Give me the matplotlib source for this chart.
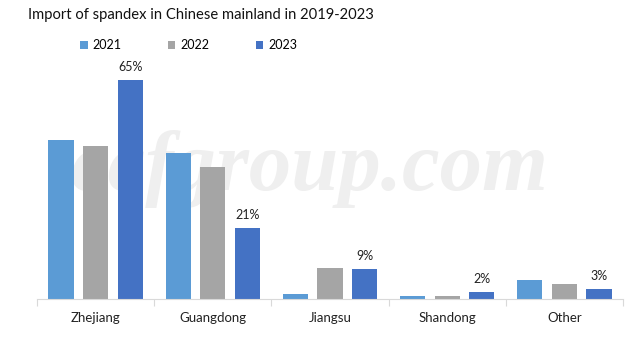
import matplotlib.pyplot as plt
import numpy as np

regions = ["Zhejiang", "Guangdong", "Jiangsu", "Shandong", "Other"]
years = ["2021", "2022", "2023"]
share_2021 = [47.2, 43.3, 1.5, 0.9, 5.6]
share_2022 = [45.4, 39.2, 9.2, 0.8, 4.5]
share_2023 = [65, 21, 9, 2, 3]
labels_2023 = ["65%", "21%", "9%", "2%", "3%"]

colors = ["#5B9BD5", "#A5A5A5", "#4472C4"]

fig = plt.figure(figsize=(6.43, 3.41), dpi=100)
ax = fig.add_axes([0.0575, 0.123, 0.9115, 0.692])

x = np.arange(len(regions))
w = 0.214
off = 0.295
series = [share_2021, share_2022, share_2023]
bars = []
for i, vals in enumerate(series):
    b = ax.bar(x + (i - 1) * off, vals, w, color=colors[i], label=years[i], zorder=3)
    bars.append(b)

for rect, lab in zip(bars[2], labels_2023):
    ax.annotate(lab, (rect.get_x() + rect.get_width() / 2, rect.get_height()),
                xytext=(0, 5), textcoords="offset points", ha="center", va="bottom",
                fontsize=9, family="Lato", color="#222222")

# watermark
ax.text(0.466, 0.55, "ccfgroup.com", transform=ax.transAxes, ha="center", va="center",
        fontsize=61, family="Liberation Serif", style="italic", weight="bold",
        color="#EFEFEF", zorder=1)

ax.set_xlim(-0.5, len(regions) - 0.5)
ax.set_ylim(0, 70)
ax.set_yticks([])
for s in ["top", "right", "left"]:
    ax.spines[s].set_visible(False)
ax.spines["bottom"].set_color("#D9D9D9")
ax.spines["bottom"].set_zorder(4)

ax.set_xticks(np.arange(-0.5, len(regions)), minor=False)
ax.set_xticklabels([])
ax.tick_params(axis="x", which="major", length=5, color="#D9D9D9")
ax.set_xticks(x, minor=True)
ax.set_xticklabels(regions, minor=True, fontsize=9.5, family="Lato", color="#222222")
ax.tick_params(axis="x", which="minor", length=0, pad=9)

fig.text(0.044, 0.955, "Import of spandex in Chinese mainland in 2019-2023",
         fontsize=10.6, family="Lato", va="center", ha="left", color="#111111")

fig.legend(loc="center left", bbox_to_anchor=(0.107, 0.868), ncol=3, frameon=False,
           handlelength=0.6, handleheight=0.6, handletextpad=0.4, columnspacing=3.7,
           prop={"family": "Lato", "size": 9})

fig.savefig("out.png", dpi=100)
